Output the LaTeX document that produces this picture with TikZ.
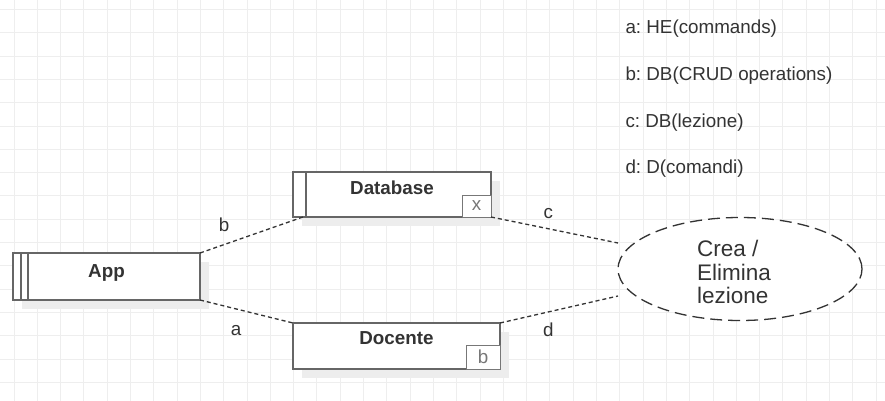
\documentclass[tikz,border=0pt]{standalone}
\usepackage{fontspec}
\setmainfont{Liberation Sans}
\frenchspacing
\usepackage{tikz}
\usetikzlibrary{positioning,calc,shapes.geometric,shadows}
\definecolor{gridgray}{HTML}{EEEEEE}
\definecolor{boxgray}{HTML}{666666}
\definecolor{txtgray}{HTML}{333333}
\definecolor{taggray}{HTML}{777777}
\definecolor{shadowgray}{HTML}{EDEDED}

\begin{document}
\begin{tikzpicture}[x=1pt, y=-1pt, line width=1pt,
	every node/.style={text=txtgray, font=\fontsize{18.8}{22}\selectfont},
	gridline/.style={draw=gridgray, line width=1pt},
	comp/.style={draw=boxgray, line width=1.6pt, fill=white, inner sep=0pt, outer sep=0pt,
		general shadow={fill=shadowgray, shadow xshift=9pt, shadow yshift=-9pt}},
	title/.style={anchor=north, inner sep=0pt, font=\fontsize{18.8}{22}\selectfont\bfseries},
	tag/.style={draw=taggray, line width=0.8pt, fill=white, inner sep=0pt, outer sep=0pt, anchor=south east, text=taggray},
	stripe/.style={draw=boxgray, line width=1.2pt},
	conn/.style={draw=txtgray, dash pattern=on 4pt off 3pt, line width=1.3pt},
	lbl/.style={inner sep=0pt},
	legend/.style={anchor=west, inner sep=0pt}]
	\useasboundingbox (0,0) rectangle (885,401);
	\fill[white] (0,0) rectangle (885,401);

	% grid
	\foreach \k in {0,...,37}
		\draw[gridline] ({14+23.3*\k},0) -- ({14+23.3*\k},401);
	\foreach \k in {0,...,16}
		\draw[gridline] (0,{9.5+23.3*\k}) -- (885,{9.5+23.3*\k});

	% components
	\node [comp, minimum width=187pt, minimum height=47pt, label={[title, yshift=-11pt]north:App}] (app) at (106.5,276.5) {};
	\node [comp, minimum width=198pt, minimum height=45pt, label={[title, yshift=-8pt]north:Database}] (db) at (392,194.5) {};
	\node [comp, minimum width=207pt, minimum height=46pt, label={[title, yshift=-8pt]north:Docente}] (doc) at (396.5,346) {};
	\draw[stripe] ([xshift=8pt]app.north west) -- ([xshift=8pt]app.south west);
	\draw[stripe] ([xshift=15pt]app.north west) -- ([xshift=15pt]app.south west);
	\draw[stripe] ([xshift=13pt]db.north west) -- ([xshift=13pt]db.south west);
	\node [tag, minimum width=29pt, minimum height=22pt] (dbtag) at (db.south east) {x};
	\node [tag, minimum width=34pt, minimum height=24pt] (doctag) at (doc.south east) {b};

	% use case
	\node [ellipse, draw=txtgray, dash pattern=on 12pt off 6pt, line width=1.3pt, fill=white,
		minimum width=244pt, minimum height=103pt, inner sep=0pt, outer sep=0pt,
		label={[align=left, xshift=-6pt, yshift=-3pt, inner sep=0pt, font=\fontsize{22.5}{23.5}\selectfont]center:Crea /\\Elimina\\lezione}] (ell) at (740,269) {};
	\coordinate (cin) at ([yshift=26pt]ell.west);
	\coordinate (din) at ([yshift=-27pt]ell.west);

	% connectors
	\draw[conn] (app.north east) -- node[lbl, pos=0.235, yshift=20pt] {b} ([xshift=10pt]db.south west);
	\draw[conn] (db.south east) -- node[lbl, pos=0.452, yshift=15pt] {c} (cin);
	\draw[conn] (app.south east) -- node[lbl, pos=0.387, yshift=-22pt] {a} (doc.north west);
	\draw[conn] (doc.north east) -- node[lbl, pos=0.41, yshift=-18pt] {d} (din);

	% legend
	\node [legend] (lega) at (625,29) {a: HE(commands)};
	\node [legend, below=46.7pt of lega.west, anchor=west] (legb) {b: DB(CRUD operations)};
	\node [legend, below=46.7pt of legb.west, anchor=west] (legc) {c: DB(lezione)};
	\node [legend, below=46.7pt of legc.west, anchor=west] (legd) {d: D(comandi)};
\end{tikzpicture}
\end{document}
